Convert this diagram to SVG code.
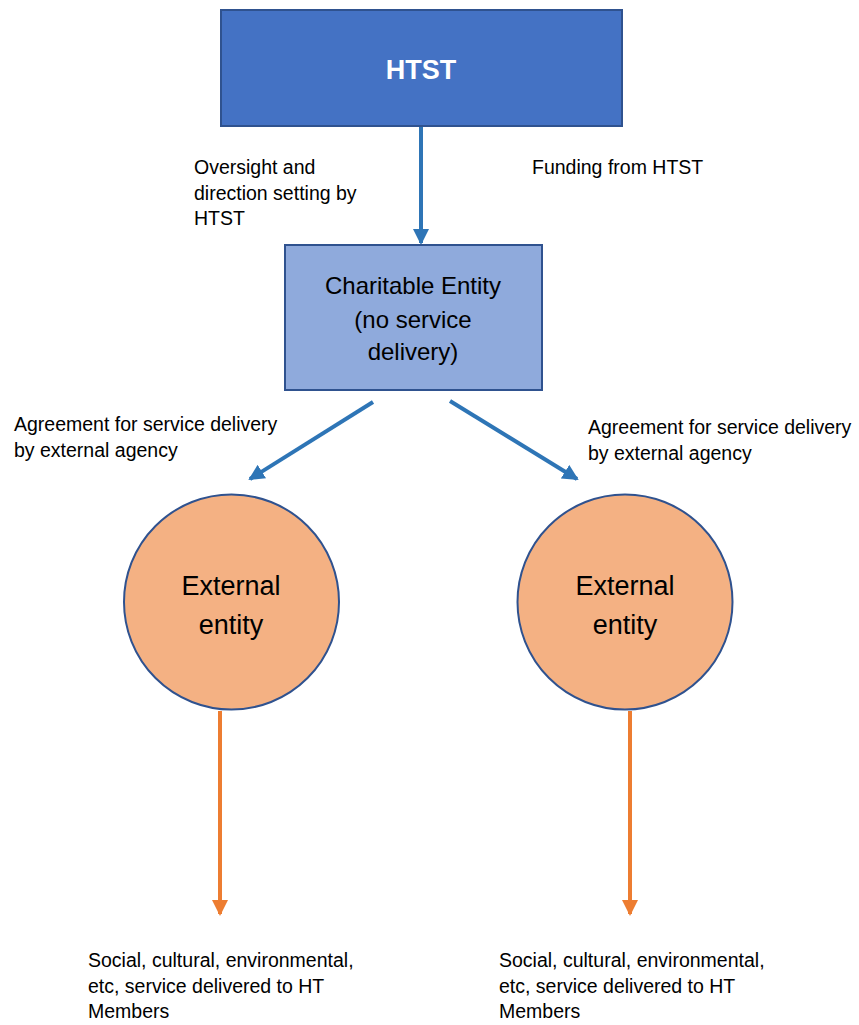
<svg xmlns="http://www.w3.org/2000/svg" width="859" height="1025" viewBox="0 0 859 1025">
<style>
.lbl{font-family:"Liberation Sans",Arial,sans-serif;font-size:19.5px;fill:#000}
.box{stroke:#2F528F;stroke-width:2}
.blue{stroke:#2E75B6;stroke-width:4;fill:none}
.orange{stroke:#ED7D31;stroke-width:4;fill:none}
.ctr{font-family:"Liberation Sans",Arial,sans-serif;text-anchor:middle;fill:#000}
</style>
<defs>
<marker id="ab" markerUnits="userSpaceOnUse" markerWidth="16" markerHeight="16" viewBox="0 0 16 16" refX="14" refY="8" orient="auto">
<path d="M0,0 L16,8 L0,16 Z" fill="#2E75B6"/>
</marker>
<marker id="ao" markerUnits="userSpaceOnUse" markerWidth="16" markerHeight="16" viewBox="0 0 16 16" refX="14" refY="8" orient="auto">
<path d="M0,0 L16,8 L0,16 Z" fill="#ED7D31"/>
</marker>
</defs>
<g id="connectors">
<line class="blue" x1="421" y1="127" x2="421" y2="243" marker-end="url(#ab)"/>
<line class="blue" x1="373" y1="402" x2="250" y2="479" marker-end="url(#ab)"/>
<line class="blue" x1="450" y1="401" x2="577" y2="479" marker-end="url(#ab)"/>
<line class="orange" x1="220" y1="711" x2="220" y2="914" marker-end="url(#ao)"/>
<line class="orange" x1="630" y1="711" x2="630" y2="914" marker-end="url(#ao)"/>
</g>
<g id="htst">
<rect class="box" x="221" y="10" width="401" height="116" fill="#4472C4"/>
<text x="421" y="79" font-family="Liberation Sans,Arial,sans-serif" font-size="27" font-weight="bold" fill="#FFFFFF" text-anchor="middle">HTST</text>
</g>
<g id="charitable">
<rect class="box" x="285" y="245" width="257" height="145" fill="#8FAADC"/>
<text class="ctr" font-size="24"><tspan x="413" y="294">Charitable Entity</tspan><tspan x="413" y="328">(no service</tspan><tspan x="413" y="360">delivery)</tspan></text>
</g>
<g id="ext-left">
<circle cx="231.5" cy="602" r="107.5" fill="#F4B183" stroke="#2F528F" stroke-width="2"/>
<text class="ctr" font-size="27"><tspan x="231" y="595">External</tspan><tspan x="231" y="634">entity</tspan></text>
</g>
<g id="ext-right">
<circle cx="625" cy="602" r="107.5" fill="#F4B183" stroke="#2F528F" stroke-width="2"/>
<text class="ctr" font-size="27"><tspan x="625" y="595">External</tspan><tspan x="625" y="634">entity</tspan></text>
</g>
<g id="labels">
<text class="lbl"><tspan x="194" y="174">Oversight and</tspan><tspan x="194" y="200">direction setting by</tspan><tspan x="194" y="225">HTST</tspan></text>
<text class="lbl" x="532" y="174">Funding from HTST</text>
<text class="lbl"><tspan x="14" y="431">Agreement for service delivery</tspan><tspan x="14" y="457">by external agency</tspan></text>
<text class="lbl"><tspan x="588" y="434">Agreement for service delivery</tspan><tspan x="588" y="460">by external agency</tspan></text>
<text class="lbl"><tspan x="88" y="967">Social, cultural, environmental,</tspan><tspan x="88" y="993">etc, service delivered to HT</tspan><tspan x="88" y="1018">Members</tspan></text>
<text class="lbl"><tspan x="499" y="967">Social, cultural, environmental,</tspan><tspan x="499" y="993">etc, service delivered to HT</tspan><tspan x="499" y="1018">Members</tspan></text>
</g>
</svg>
